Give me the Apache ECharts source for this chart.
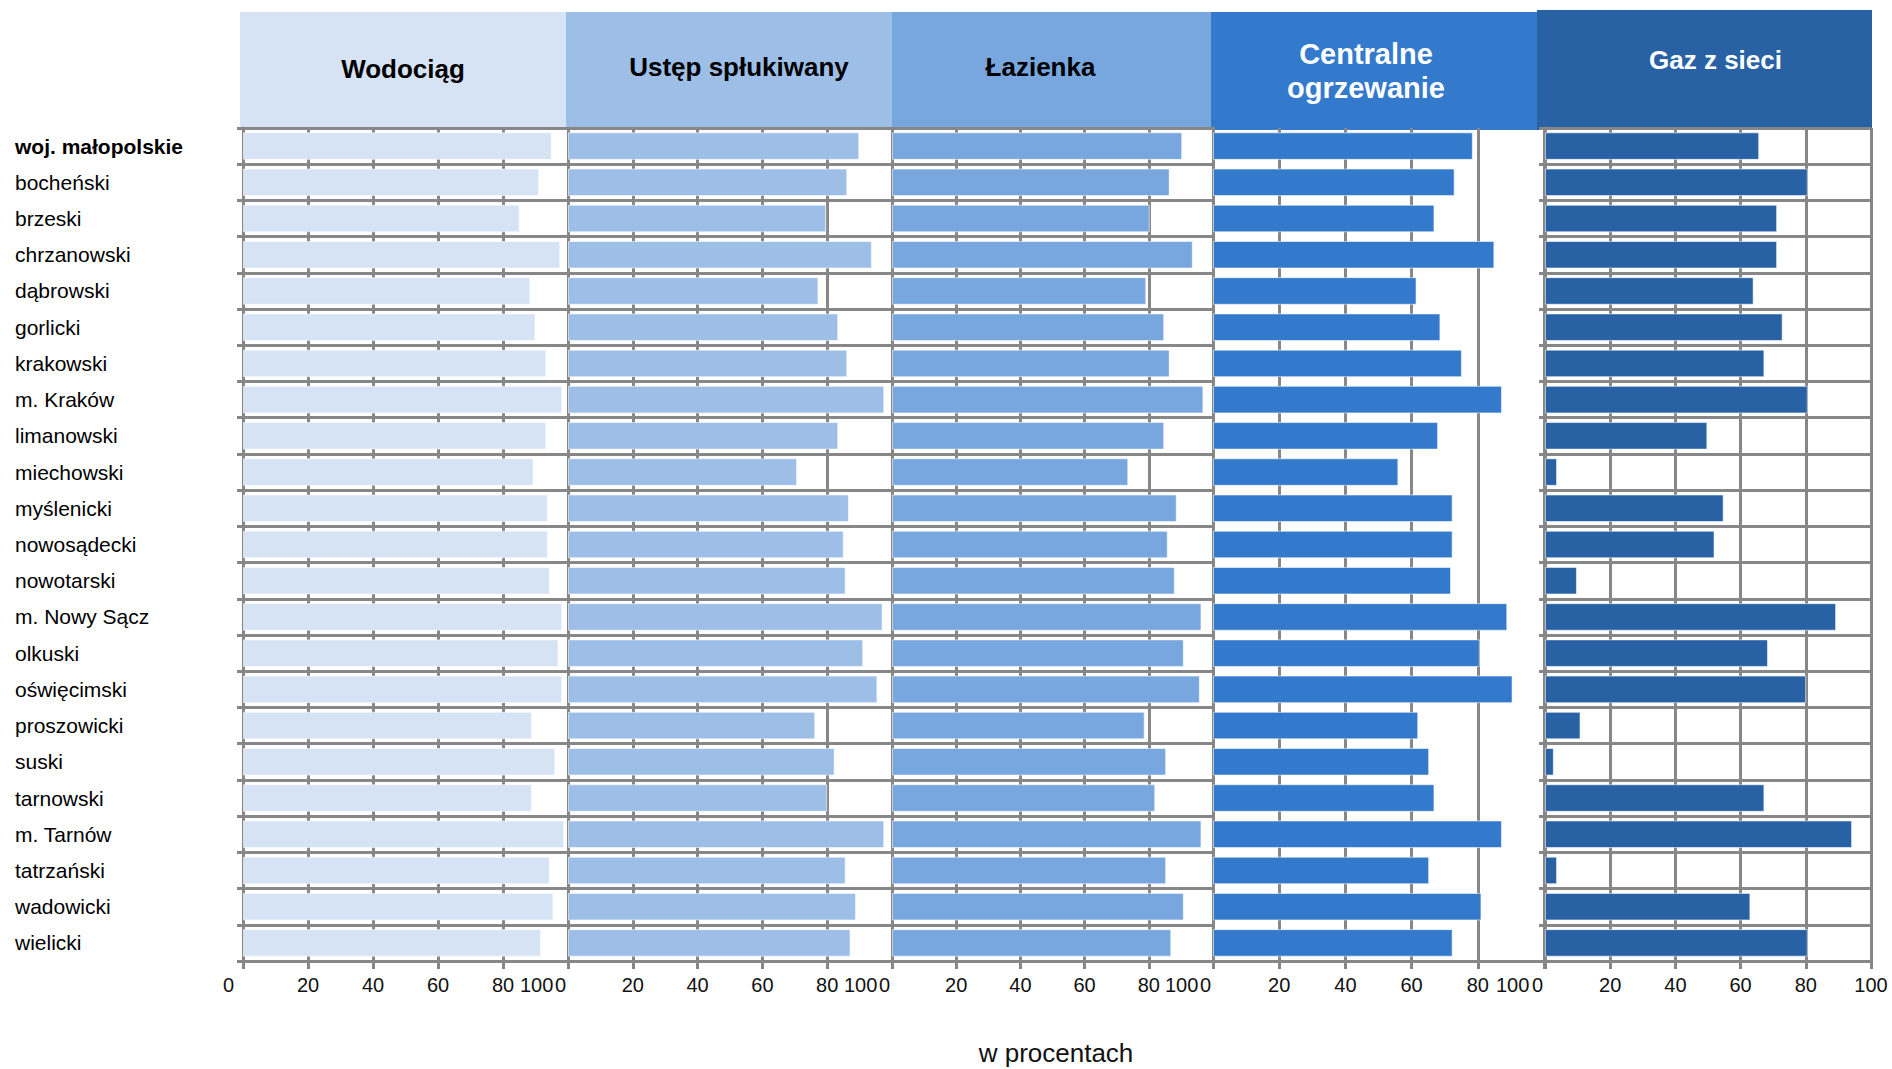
<!DOCTYPE html>
<html>
<head>
<meta charset="utf-8">
<title>Wyposażenie mieszkań w instalacje</title>
<script src="https://cdn.jsdelivr.net/npm/echarts@6/dist/echarts.min.js"></script>
<style>
  html, body { margin: 0; padding: 0; background: #fff; }
  #chart { width: 1892px; height: 1069px; }
</style>
</head>
<body>
<div id="chart"></div>
<script>
const categories = [
  'woj. małopolskie', 'bocheński', 'brzeski', 'chrzanowski', 'dąbrowski', 'gorlicki',
  'krakowski', 'm. Kraków', 'limanowski', 'miechowski', 'myślenicki', 'nowosądecki',
  'nowotarski', 'm. Nowy Sącz', 'olkuski', 'oświęcimski', 'proszowicki', 'suski',
  'tarnowski', 'm. Tarnów', 'tatrzański', 'wadowicki', 'wielicki'
]

const wodociag = [95.0, 91.1, 85.1, 97.6, 88.4, 90.0, 93.3, 98.2, 93.3, 89.4, 93.8, 93.8,
  94.4, 98.2, 97.1, 98.2, 88.9, 96.1, 88.9, 98.8, 94.4, 95.5, 91.7]
const ustep = [89.9, 86.2, 79.7, 93.8, 77.3, 83.4, 86.2, 97.6, 83.4, 70.7, 86.7, 85.1,
  85.7, 97.1, 91.1, 95.5, 76.3, 82.3, 80.0, 97.6, 85.7, 88.9, 87.2]
const lazienka = [90.4, 86.5, 80.3, 93.7, 79.2, 84.8, 86.5, 97.0, 84.8, 73.6, 88.7, 85.9,
  88.1, 96.4, 90.9, 95.9, 78.7, 85.4, 82.0, 96.4, 85.4, 90.9, 87.0]
const centralne = [78.5, 73.0, 66.9, 85.0, 61.5, 68.7, 75.2, 87.3, 68.0, 56.0, 72.4, 72.4,
  71.9, 88.9, 80.6, 90.5, 62.0, 65.3, 66.9, 87.3, 65.3, 81.1, 72.4]
const gaz = [65.7, 80.6, 71.2, 71.2, 64.0, 72.9, 67.3, 80.6, 49.8, 3.7, 54.8, 52.0,
  9.8, 89.3, 68.4, 80.1, 10.9, 2.7, 67.3, 94.2, 3.7, 63.0, 80.6]

const headers = ['Wodociąg', 'Ustęp spłukiwany', 'Łazienka', 'Centralne\nogrzewanie', 'Gaz z sieci']
const unitLabel = 'w procentach'

// layout of the five small panels (px)
const panels = [
  { left: 243, width: 325, hx: 240, hw: 326, tx: 0, ty: 69, fs: 26, color: '#d6e3f4', text: '#000', hLines: true, data: wodociag },
  { left: 568, width: 324, hx: 566, hw: 326, tx: 10, ty: 67, fs: 26, color: '#9dbfe7', text: '#000', hLines: true, data: ustep },
  { left: 892, width: 321, hx: 892, hw: 319, tx: -11, ty: 67, fs: 26, color: '#78a6de', text: '#000', hLines: true, data: lazienka },
  { left: 1213, width: 331, hx: 1211, hw: 326, tx: -8, ty: 71, fs: 29, color: '#3379cc', text: '#fff', hLines: false, data: centralne },
  { left: 1545, width: 326, hx: 1537, hw: 335, tx: 11, ty: 60, fs: 26, color: '#2862a5', text: '#fff', hLines: true, data: gaz }
]

const TOP = 128
const HEIGHT = 833
const GRID_GRAY = '#878787'
const FONT = 'Liberation Sans, Arial, sans-serif'
const line = { color: GRID_GRAY, width: 3 }

const chart = echarts.init(document.getElementById('chart'), null, { renderer: 'svg' })

const option = {
  animation: false,
  backgroundColor: '#fff',
  textStyle: { fontFamily: FONT },
  grid: panels.map((p) => ({ left: p.left, top: TOP, width: p.width, height: HEIGHT })),
  xAxis: panels.map((p, i) => ({
    type: 'value',
    gridIndex: i,
    min: 0,
    max: 100,
    interval: 20,
    splitLine: { show: true, lineStyle: line },
    axisLine: { show: true, lineStyle: line },
    axisTick: { show: true, length: 8, lineStyle: line },
    axisLabel: {
      color: '#111',
      fontSize: 20,
      fontFamily: FONT,
      margin: 14,
      showMinLabel: true,
      showMaxLabel: true,
      alignMinLabel: 'right',
      alignMaxLabel: i < 4 ? 'right' : 'center',
      formatter: (v) => (v === 0 ? '{z|0}' : v === 100 && i < 4 ? '{h|100}' : String(v)),
      rich: {
        z: { width: i === 0 ? 20 : 13, align: 'left', fontSize: 20, color: '#111' },
        h: { width: 48, align: 'left', fontSize: 20, color: '#111' }
      }
    }
  })),
  yAxis: panels.map((p, i) => ({
    type: 'category',
    gridIndex: i,
    data: categories,
    inverse: true,
    axisLine: { show: true, lineStyle: line },
    axisTick: { show: true, length: 6, lineStyle: line },
    splitLine: { show: p.hLines, lineStyle: line },
    axisLabel: {
      show: i === 0,
      align: 'left',
      margin: 228,
      color: '#000',
      fontSize: 21,
      fontFamily: FONT,
      formatter: (v, idx) => (idx === 0 ? '{b|' + v + '}' : v),
      rich: { b: { fontWeight: 'bold', fontSize: 21, color: '#000' } }
    }
  })),
  series: panels.map((p, i) => ({
    name: headers[i],
    type: 'bar',
    xAxisIndex: i,
    yAxisIndex: i,
    data: p.data,
    barCategoryGap: '24%',
    itemStyle: { color: p.color, borderColor: 'rgba(255,255,255,0.55)', borderWidth: 1 }
  })),
  graphic: [
    ...panels.map((p, i) => ({
      type: 'group',
      z: 100,
      children: [
        {
          type: 'rect',
          shape: { x: p.hx, y: i === 4 ? 10 : 12, width: p.hw, height: i === 4 ? 120 : 118 },
          style: { fill: p.color }
        },
        {
          type: 'text',
          x: p.hx + p.hw / 2 + p.tx,
          y: p.ty,
          style: {
            text: headers[i],
            fill: p.text,
            font: 'bold ' + p.fs + 'px ' + FONT,
            align: 'center',
            verticalAlign: 'middle',
            lineHeight: 34
          }
        }
      ]
    })),
    {
      type: 'text',
      x: 1056,
      y: 1053,
      style: {
        text: unitLabel,
        fill: '#111',
        font: '26px ' + FONT,
        align: 'center',
        verticalAlign: 'middle'
      }
    }
  ]
}

chart.setOption(option)
</script>
</body>
</html>
